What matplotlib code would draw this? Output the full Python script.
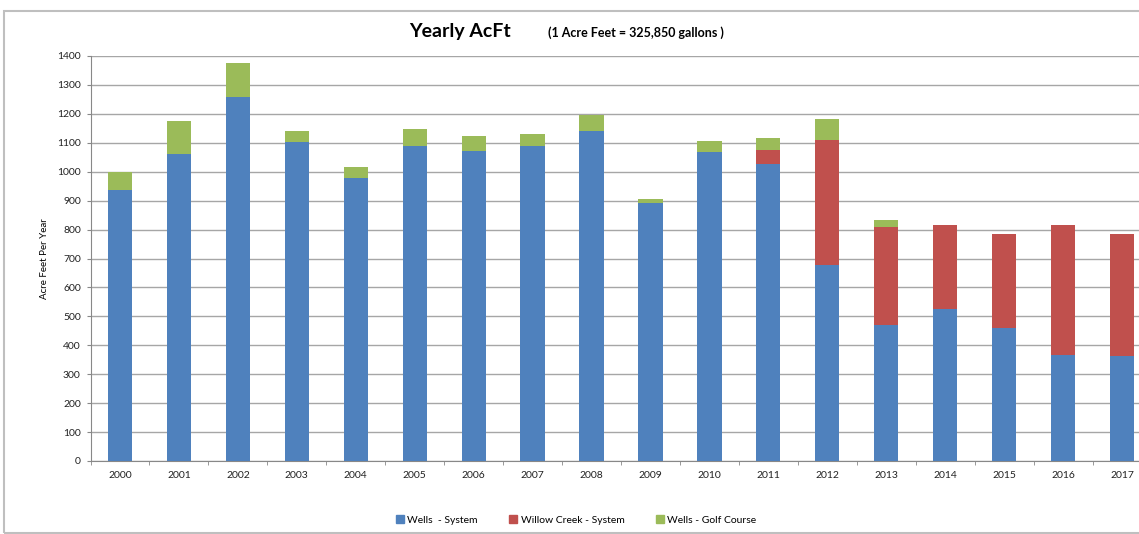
import numpy as np
import matplotlib.pyplot as plt
from matplotlib.patches import Rectangle, Patch

plt.rcParams['font.family'] = ['Lato', 'DejaVu Sans']

years = ["2000", "2001", "2002", "2003", "2004", "2005", "2006", "2007", "2008",
         "2009", "2010", "2011", "2012", "2013", "2014", "2015", "2016", "2017"]
wells_system = [937, 1061, 1257, 1104, 977, 1089, 1073, 1090, 1141,
                891, 1069, 1026, 677, 469, 527, 461, 367, 362]
willow_creek = [0, 0, 0, 0, 0, 0, 0, 0, 0,
                0, 0, 49, 434, 340, 288, 325, 448, 424]
wells_golf = [62, 114, 119, 37, 40, 58, 51, 41, 55,
              16, 36, 43, 70, 25, 0, 0, 0, 0]

c_blue = "#4F81BD"
c_red = "#C0504D"
c_green = "#9BBB59"

fig = plt.figure(figsize=(11.39, 5.34), dpi=100)

# outer chart frame
fig.patches.append(Rectangle((4 / 1139, 1 / 534), 1.1, 522 / 534, transform=fig.transFigure,
                             fill=False, edgecolor="#BFBFBF", linewidth=1.5))

ax = fig.add_axes([90.5 / 1139, 1 - 461 / 534, 1061 / 1139, 405 / 534])

x = np.arange(len(years))
w = 0.41
b1 = np.array(wells_system)
b2 = b1 + np.array(willow_creek)
ax.bar(x, wells_system, width=w, color=c_blue, zorder=3)
ax.bar(x, willow_creek, width=w, bottom=b1, color=c_red, zorder=3)
ax.bar(x, wells_golf, width=w, bottom=b2, color=c_green, zorder=3)

ax.set_xlim(-0.5, len(years) - 0.5)
ax.set_ylim(0, 1400)
ax.set_yticks(np.arange(0, 1401, 100))
ax.grid(axis="y", color="#A6A6A6", linewidth=1, zorder=0)
ax.set_xticks(x)
ax.set_xticklabels(years)
ax.set_xticks(np.arange(-0.5, len(years), 1), minor=True)
ax.tick_params(axis="x", which="major", length=0, pad=7, labelsize=7.5, labelcolor="#222222")
ax.tick_params(axis="x", which="minor", length=3, color="#888888")
ax.tick_params(axis="y", length=3, color="#888888", labelsize=7.5, labelcolor="#222222", pad=4)

for s in ["top", "right"]:
    ax.spines[s].set_visible(False)
for s in ["left", "bottom"]:
    ax.spines[s].set_color("#888888")

ax.set_ylabel("Acre Feet Per Year", fontsize=7, labelpad=6)

fig.text(460 / 1139, 1 - 31 / 534, "Yearly AcFt", fontsize=14, fontweight="bold",
         ha="center", va="center")
fig.text(548 / 1139, 1 - 33 / 534, "(1 Acre Feet = 325,850 gallons )", fontsize=9,
         fontweight="bold", ha="left", va="center")

handles = [Patch(color=c_blue, label="Wells  - System"),
           Patch(color=c_red, label="Willow Creek - System"),
           Patch(color=c_green, label="Wells - Golf Course")]
fig.legend(handles=handles, loc="center", bbox_to_anchor=(576 / 1139, 1 - 520 / 534), ncol=3,
           frameon=False, fontsize=7.5, handlelength=0.8, handleheight=0.8,
           handletextpad=0.3, columnspacing=3.0)

fig.savefig("out.png", dpi=100)
